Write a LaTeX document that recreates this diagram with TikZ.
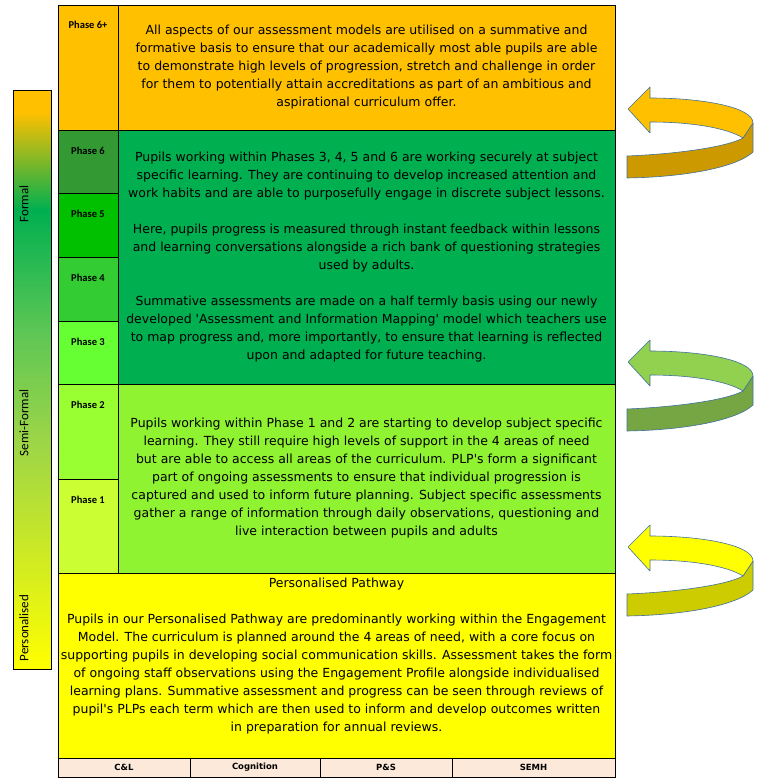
\documentclass[tikz,border=0pt]{standalone}
\usepackage{fontspec}
\usepackage{tikz}
\usetikzlibrary{positioning}
\newfontfamily\comicfont{DejaVu Sans}
\newfontfamily\calfont{Carlito}
\definecolor{cOrange}{HTML}{FFC000}
\definecolor{cGreenMid}{HTML}{00AF50}
\definecolor{cGreenLow}{HTML}{8FF331}
\definecolor{cYellow}{HTML}{FFFF00}
\definecolor{cPhSix}{HTML}{339933}
\definecolor{cPhFive}{HTML}{00C000}
\definecolor{cPhFour}{HTML}{33CC33}
\definecolor{cPhThree}{HTML}{66FF33}
\definecolor{cPhTwo}{HTML}{99FF33}
\definecolor{cPhOne}{HTML}{CCFF33}
\definecolor{cStrip}{HTML}{FDE9D9}
\definecolor{cBarA}{HTML}{5CC655}
\definecolor{cBarB}{HTML}{9CD548}
\definecolor{arrOrangeD}{HTML}{CC9A00}
\definecolor{arrGreen}{HTML}{92D050}
\definecolor{arrGreenD}{HTML}{75A643}
\definecolor{arrYellowD}{HTML}{CCCC00}
\definecolor{arrLine}{HTML}{41719C}
\tikzset{
  cell/.style={draw=black, line width=0.9pt, anchor=north west,
    inner sep=0pt, outer sep=0pt},
  phaselab/.style={font=\calfont\bfseries\fontsize{10.5}{12}\selectfont,
    anchor=base, inner sep=0pt},
  body/.style={font=\comicfont\fontsize{12.5}{18}\selectfont, align=center,
    inner sep=0pt},
  barlab/.style={font=\calfont\fontsize{13}{15}\selectfont, rotate=90,
    inner sep=0pt},
  striplab/.style={font=\comicfont\bfseries\fontsize{8.5}{10}\selectfont,
    inner sep=0pt},
}

\begin{document}
\begin{tikzpicture}[
  x=1pt, y=-1pt,
  turnline/.style={draw=arrLine, line width=0.6pt, line join=round},
]
\useasboundingbox (0,0) rectangle (760,783);
% left scale bar
\fill[cOrange] (13,90) rectangle (51,112);
\shade[top color=cOrange, bottom color=cGreenMid] (13,112) rectangle (51,210);
\shade[top color=cGreenMid, bottom color=cBarA] (13,210) rectangle (51,330);
\shade[top color=cBarA, bottom color=cBarB] (13,330) rectangle (51,440);
\shade[top color=cBarB, bottom color=cYellow] (13,440) rectangle (51,669);
\node[draw=black, line width=0.9pt, anchor=north west, inner sep=0pt,
  minimum width=38pt, minimum height=579pt] (scalebar) at (13,90) {};
\node[barlab] (formal) at (24,204) {Formal};
\node[barlab] (semiformal) at (24,423) {Semi-Formal};
\node[barlab] (personalised) at (24,628) {Personalised};
% phase cells
\node[cell, fill=cOrange, minimum width=60pt, minimum height=125pt] (p6plus) at (58,5) {};
\node[cell, fill=cPhSix, minimum width=60pt, minimum height=63pt] (p6) at (58,130) {};
\node[cell, fill=cPhFive, minimum width=60pt, minimum height=64pt] (p5) at (58,193) {};
\node[cell, fill=cPhFour, minimum width=60pt, minimum height=64pt] (p4) at (58,257) {};
\node[cell, fill=cPhThree, minimum width=60pt, minimum height=63pt] (p3) at (58,321) {};
\node[cell, fill=cPhTwo, minimum width=60pt, minimum height=95pt] (p2) at (58,384) {};
\node[cell, fill=cPhOne, minimum width=60pt, minimum height=94pt] (p1) at (58,479) {};
% text cells
\node[cell, fill=cOrange, minimum width=497pt, minimum height=125pt] (top) at (118,5) {};
\node[cell, fill=cGreenMid, minimum width=497pt, minimum height=254pt] (mid) at (118,130) {};
\node[cell, fill=cGreenLow, minimum width=497pt, minimum height=189pt] (low) at (118,384) {};
\node[cell, fill=cYellow, minimum width=557pt, minimum height=185pt] (pathway) at (58,573) {};
% areas of need
\node[cell, fill=cStrip, minimum width=132pt, minimum height=19pt] (cl) at (58,758) {};
\node[cell, fill=cStrip, minimum width=130pt, minimum height=19pt] (cog) at (190,758) {};
\node[cell, fill=cStrip, minimum width=132pt, minimum height=19pt] (ps) at (320,758) {};
\node[cell, fill=cStrip, minimum width=163pt, minimum height=19pt] (semh) at (452,758) {};
\node[striplab] at (cl) {C\&L};
\node[striplab] at (cog) {Cognition};
\node[striplab] at (ps) {P\&S};
\node[striplab] at (semh) {SEMH};
% phase labels
\node[phaselab] (l6plus) at ([yshift=-23.5pt]p6plus.north) {Phase 6+};
\node[phaselab] (l6) at ([yshift=-24.5pt]p6.north) {Phase 6};
\node[phaselab] (l5) at ([yshift=-24.5pt]p5.north) {Phase 5};
\node[phaselab] (l4) at ([yshift=-24.5pt]p4.north) {Phase 4};
\node[phaselab] (l3) at ([yshift=-24.5pt]p3.north) {Phase 3};
\node[phaselab] (l2) at ([yshift=-24.5pt]p2.north) {Phase 2};
\node[phaselab] (l1) at ([yshift=-24.5pt]p1.north) {Phase 1};
% texts
\node[body] (ttop) at (top.center) {All aspects of our assessment models are utilised on a summative and\\
  formative basis to ensure that our academically most able pupils are able\\
  to demonstrate high levels of progression, stretch and challenge in order\\
  for them to potentially attain accreditations as part of an ambitious and\\
  aspirational curriculum offer.};
\node[body] (tmid) at (mid.center) {Pupils working within Phases 3, 4, 5 and 6 are working securely at subject\\
  specific learning. They are continuing to develop increased attention and\\
  work habits and are able to purposefully engage in discrete subject lessons.\\[18pt]
  Here, pupils progress is measured through instant feedback within lessons\\
  and learning conversations alongside a rich bank of questioning strategies\\
  used by adults.\\[18pt]
  Summative assessments are made on a half termly basis using our newly\\
  developed 'Assessment and Information Mapping' model which teachers use\\
  to map progress and, more importantly, to ensure that learning is reflected\\
  upon and adapted for future teaching.};
\node[body] (tlow) at (low.center) {Pupils working within Phase 1 and 2 are starting to develop subject specific\\
  learning. They still require high levels of support in the 4 areas of need\\
  but are able to access all areas of the curriculum. PLP's form a significant\\
  part of ongoing assessments to ensure that individual progression is\\
  captured and used to inform future planning. Subject specific assessments\\
  gather a range of information through daily observations, questioning and\\
  live interaction between pupils and adults};
\node[body, anchor=north] (tpath) at ([yshift=-4.5pt]pathway.north) {Personalised Pathway\\[18pt]
  Pupils in our Personalised Pathway are predominantly working within the Engagement\\
  Model. The curriculum is planned around the 4 areas of need, with a core focus on\\
  supporting pupils in developing social communication skills. Assessment takes the form\\
  of ongoing staff observations using the Engagement Profile alongside individualised\\
  learning plans. Summative assessment and progress can be seen through reviews of\\
  pupil's PLPs each term which are then used to inform and develop outcomes written\\
  in preparation for annual reviews.};
% turning arrows
\foreach \oy/\lt/\dk in {87/cOrange/arrOrangeD, 340/arrGreen/arrGreenD, 525/cYellow/arrYellowD}{
  \begin{scope}[shift={(627,\oy)}]
    \draw[turnline, fill=\dk] (116,51) -- (126,36) -- (126,65)
      .. controls (110,80) and (60,90) .. (0,91) -- (0,69)
      .. controls (50,67) and (100,60) .. (116,51) -- cycle;
    \draw[turnline, fill=\lt] (1,22) -- (23,0) -- (23,11)
      .. controls (75,11) and (126,20) .. (126,36) -- (116,51)
      .. controls (100,41) and (65,35) .. (23,35) -- (23,46) -- cycle;
  \end{scope}
}
\end{tikzpicture}
\end{document}
